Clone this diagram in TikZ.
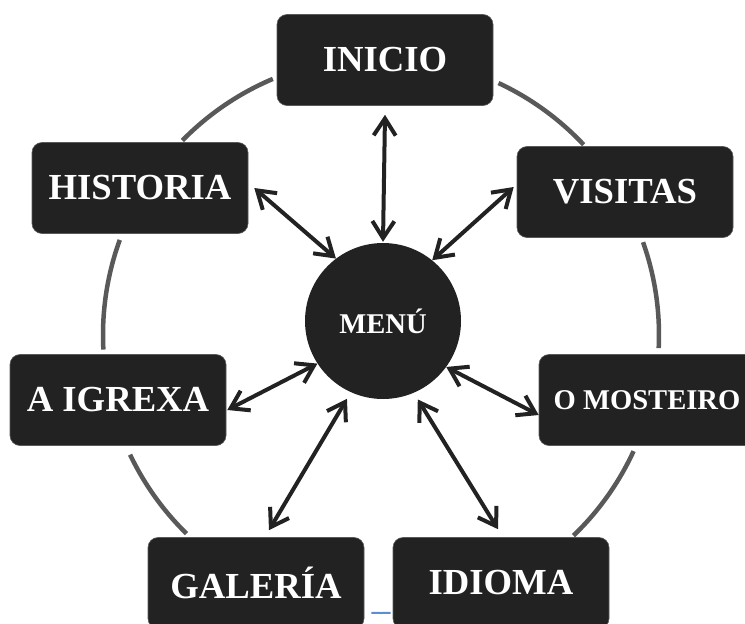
\documentclass[tikz,border=0pt]{standalone}
\usepackage{fontspec}
\setmainfont{Liberation Serif}
\usetikzlibrary{arrows.meta}
\definecolor{boxfill}{HTML}{222222}
\definecolor{ringgray}{HTML}{595959}
\definecolor{blueline}{HTML}{5B8FD0}
\tikzset{
  menubox/.style={rectangle, rounded corners=10pt, fill=boxfill, draw=black!65, line width=0.6pt,
    minimum width=216pt, minimum height=91pt, inner sep=0pt, text=white,
    font=\fontsize{36.7}{40}\selectfont\bfseries},
  smalltext/.style={font=\fontsize{28.6}{32}\selectfont\bfseries},
  hub/.style={circle, fill=boxfill, minimum size=156pt, inner sep=0pt, text=white,
    font=\fontsize{28.6}{32}\selectfont\bfseries},
  ring/.style={draw=ringgray, line width=4.5pt},
  arr/.style={draw=boxfill, line width=4pt,
    {Straight Barb[length=17pt,width=22pt]}-{Straight Barb[length=17pt,width=22pt]}}
}
\begin{document}
\begin{tikzpicture}[x=1pt,y=-1pt]
\useasboundingbox (0,0) rectangle (745,624);
\clip (0,0) rectangle (745,624);
\coordinate (c) at (381,335);
% ring arcs
\draw[ring] (c) ++(-112.9:278) arc[start angle=-112.9, end angle=-135.6, radius=278];
\draw[ring] (c) ++(-43.2:278) arc[start angle=-43.2, end angle=-65, radius=278];
\draw[ring] (c) ++(2.7:278) arc[start angle=2.7, end angle=-19.5, radius=278];
\draw[ring] (c) ++(-160:278) arc[start angle=-160, end angle=-183, radius=278];
\draw[ring] (c) ++(-205.5:278) arc[start angle=-205.5, end angle=-225.6, radius=278];
\draw[ring] (c) ++(24.7:278) arc[start angle=24.7, end angle=46.2, radius=278];
\draw[draw=blueline, line width=2pt] (c) ++(88:278) arc[start angle=88, end angle=92, radius=278];
% nodes
\node[menubox] (inicio) at (385,60) {INICIO};
\node[menubox] (historia) at (140,188) {HISTORIA};
\node[menubox] (visitas) at (625,192) {VISITAS};
\node[menubox] (igrexa) at (118,400) {A IGREXA};
\node[menubox, smalltext] (mosteiro) at (647,400) {O MOSTEIRO};
\node[menubox] (galeria) at (256,583) {GALERÍA};
\node[menubox] (idioma) at (501,583) {IDIOMA};
\node[hub] (menu) at (383,321) {MENÚ};
% connectors
\draw[arr] ([yshift=-9pt]inicio.south) -- ([yshift=1pt]menu.north);
\draw[arr] ([xshift=6pt]historia.east) -- (menu.127);
\draw[arr] ([xshift=-3pt,yshift=5pt]visitas.west) -- (menu.51);
\draw[arr] ([xshift=1pt,yshift=-10pt]igrexa.east) -- (menu.213);
\draw[arr] ([yshift=-15pt]mosteiro.west) -- (menu.-36);
\draw[arr] ([xshift=13pt,yshift=7pt]galeria.north) -- ([shift={(-3pt,-7pt)}]menu.245.5);
\draw[arr] ([xshift=-3pt,yshift=8pt]idioma.north) -- ([shift={(3pt,-7pt)}]menu.294.5);
\end{tikzpicture}
\end{document}
